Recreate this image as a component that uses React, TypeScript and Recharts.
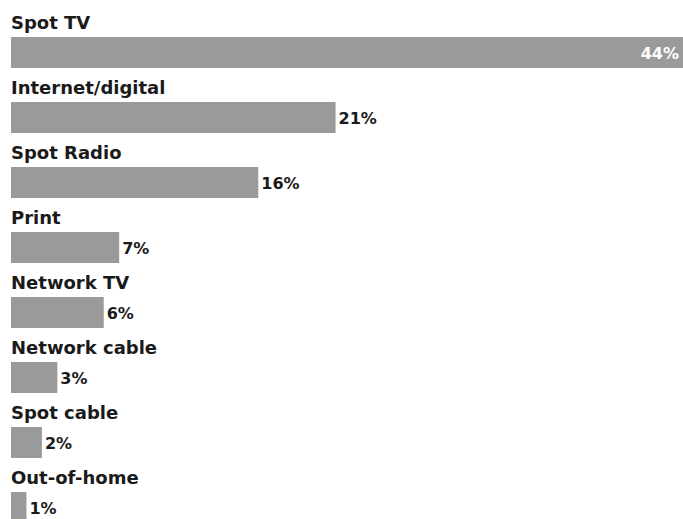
import React from 'react';
import { BarChart, Bar, XAxis, YAxis, LabelList } from 'recharts';

const categories = ['Spot TV', 'Internet/digital', 'Spot Radio', 'Print', 'Network TV', 'Network cable', 'Spot cable', 'Out-of-home'];
const shares = [44, 21, 16, 7, 6, 3, 2, 1];

const data = categories.map((name, i) => ({ name, value: shares[i] }));
const maxShare = Math.max(...shares);

const FONT = '"DejaVu Sans", Verdana, sans-serif';
const TEXT = '#1a1a1a';
const BAR = '#9a9a9a';

// category name sits above its bar, flush with the bar start
const NameLabel = (props: any) => {
    const { x, y, value } = props;
    return (
        <text x={x} y={y - 8} fill={TEXT} fontFamily={FONT} fontWeight="bold" fontSize={18}>
            {value}
        </text>
    );
};

// percentage: outside the bar, except the biggest one which goes inside in white
const ValueLabel = (props: any) => {
    const { x, y, width, height, value } = props;
    const inside = value === maxShare;
    return (
        <text
            x={inside ? x + width - 12 : x + width + 3}
            y={y + height / 2 + 6}
            textAnchor={inside ? 'end' : 'start'}
            fill={inside ? '#ffffff' : TEXT}
            fontFamily={FONT}
            fontWeight="bold"
            fontSize={16}
        >
            {value}%
        </text>
    );
};

export default function App() {
    return (
        <div style={{ position: 'absolute', top: 0, left: 0, width: 683, height: 519, overflow: 'hidden', background: '#fff' }}>
            <BarChart
                width={720}
                height={560}
                data={data}
                layout="vertical"
                margin={{ top: 20, right: 29, left: 11, bottom: 20 }}
            >
                <XAxis type="number" domain={[0, 44]} hide />
                <YAxis type="category" dataKey="name" hide />
                <Bar dataKey="value" fill={BAR} barSize={31} isAnimationActive={false}>
                    <LabelList dataKey="name" content={<NameLabel />} />
                    <LabelList dataKey="value" content={<ValueLabel />} />
                </Bar>
            </BarChart>
        </div>
    );
}
